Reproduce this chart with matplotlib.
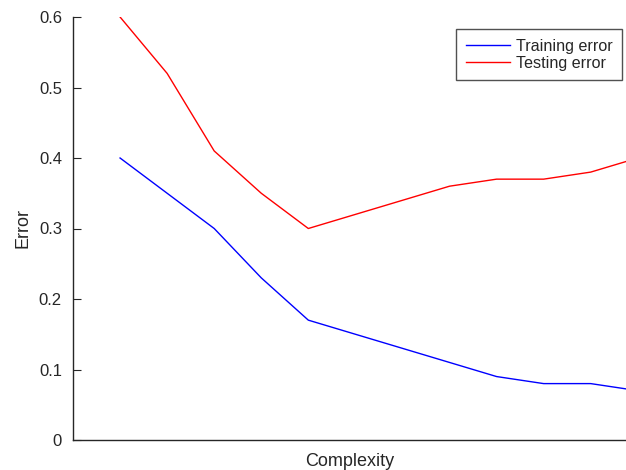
import matplotlib.pyplot as plt
import numpy as np

plt.rcParams['font.family'] = ['Liberation Sans', 'DejaVu Sans']
plt.rcParams['text.color'] = '#262626'

complexity = np.arange(1, 13)
training_error = [0.40, 0.35, 0.30, 0.23, 0.17, 0.15, 0.13, 0.11, 0.09, 0.08, 0.08, 0.07]
testing_error = [0.60, 0.52, 0.41, 0.35, 0.30, 0.32, 0.34, 0.36, 0.37, 0.37, 0.38, 0.40]

fig = plt.figure(figsize=(6.26, 4.70), dpi=100)
ax = fig.add_axes([73 / 626, 30 / 470, 1 - 73 / 626, 423 / 470])

ax.plot(complexity, training_error, color='blue', linewidth=1, label='Training error')
ax.plot(complexity, testing_error, color='red', linewidth=1, label='Testing error')

ax.set_xlim(0, 11.75)
ax.set_ylim(0, 0.6)
ax.set_yticks([0, 0.1, 0.2, 0.3, 0.4, 0.5, 0.6])
ax.set_yticklabels(['0', '0.1', '0.2', '0.3', '0.4', '0.5', '0.6'])
ax.set_xticks([])
ax.tick_params(axis='y', direction='in', length=6, labelsize=12, colors='#262626', pad=8)

for side in ['top', 'right']:
    ax.spines[side].set_visible(False)
for side in ['left', 'bottom']:
    ax.spines[side].set_color('#262626')
    ax.spines[side].set_linewidth(1)

ax.set_xlabel('Complexity', fontsize=13, labelpad=9.5, color='#262626')
ax.set_ylabel('Error', fontsize=13, labelpad=5, color='#262626')

leg = ax.legend(loc='upper right', bbox_to_anchor=(622 / 626, 441 / 470),
                bbox_transform=fig.transFigure, borderaxespad=0,
                fancybox=False, fontsize=11.6, handlelength=2.75,
                borderpad=0.6, labelspacing=0.12, handletextpad=0.35)
leg.get_frame().set_edgecolor('#262626')
leg.get_frame().set_linewidth(1)

fig.savefig('out.png', dpi=100)
